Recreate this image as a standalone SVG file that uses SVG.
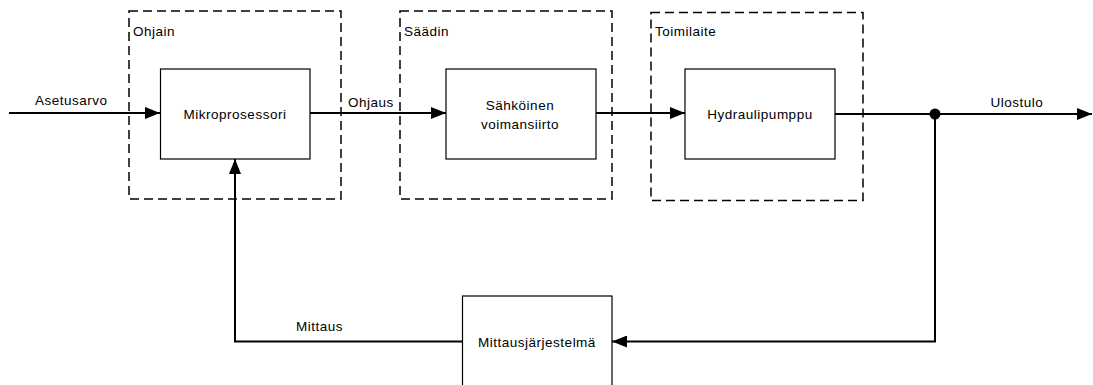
<svg xmlns="http://www.w3.org/2000/svg" width="1093" height="385" viewBox="0 0 1093 385">
<style>
text{font-family:"Liberation Sans",Arial,sans-serif;font-size:13.5px;fill:#000;letter-spacing:0.5px}
.grp{fill:none;stroke:#000;stroke-width:1.5;stroke-dasharray:9 5}
.blk{fill:#fff;stroke:#000;stroke-width:1.2}
.ln{fill:none;stroke:#000;stroke-width:2}
.mid{text-anchor:middle}
</style>
<defs>
<marker id="ah" viewBox="0 0 15 12" refX="15" refY="6" markerWidth="15" markerHeight="12" markerUnits="userSpaceOnUse" orient="auto">
<path d="M0,0 L15,6 L0,12 Z" fill="#000"/>
</marker>
</defs>
<g id="ohjain">
<rect class="grp" x="129" y="11" width="212" height="188"/>
<text x="133" y="36">Ohjain</text>
</g>
<g id="saadin">
<rect class="grp" x="400" y="11" width="212" height="188"/>
<text x="404" y="36">Säädin</text>
</g>
<g id="toimilaite">
<rect class="grp" x="651" y="12.5" width="212" height="188"/>
<text x="655" y="36">Toimilaite</text>
</g>
<g id="connectors">
<line class="ln" x1="9" y1="113" x2="160" y2="113" marker-end="url(#ah)"/>
<line class="ln" x1="310" y1="113" x2="446" y2="113" marker-end="url(#ah)"/>
<line class="ln" x1="596" y1="113" x2="685" y2="113" marker-end="url(#ah)"/>
<line class="ln" x1="835" y1="114" x2="1092" y2="114" marker-end="url(#ah)"/>
<circle cx="935" cy="114" r="5.5" fill="#000"/>
<polyline class="ln" points="935,114 935,341.5 612,341.5" marker-end="url(#ah)"/>
<polyline class="ln" points="462,341.5 235,341.5 235,159" marker-end="url(#ah)"/>
<text x="35" y="105">Asetusarvo</text>
<text x="348" y="107">Ohjaus</text>
<text class="mid" x="1017" y="107">Ulostulo</text>
<text x="296" y="331">Mittaus</text>
</g>
<g id="mikroprosessori">
<rect class="blk" x="160.5" y="69" width="149.5" height="90"/>
<text class="mid" x="235" y="119">Mikroprosessori</text>
</g>
<g id="sahkoinen">
<rect class="blk" x="446" y="69" width="150" height="90"/>
<text class="mid" x="520" y="110">Sähköinen</text>
<text class="mid" x="520" y="129">voimansiirto</text>
</g>
<g id="hydraulipumppu">
<rect class="blk" x="685" y="69" width="150" height="90"/>
<text class="mid" x="760" y="119">Hydraulipumppu</text>
</g>
<g id="mittausjarjestelma">
<rect class="blk" x="462.5" y="296" width="149.5" height="100"/>
<text class="mid" x="537" y="347">Mittausjärjestelmä</text>
</g>
</svg>
